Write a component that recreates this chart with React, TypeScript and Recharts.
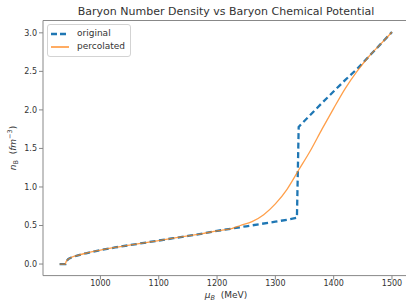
import React from 'react';
import { LineChart, Line, XAxis, YAxis, Legend, ReferenceLine, Label } from 'recharts';

const FONT = '"DejaVu Sans", sans-serif';

const originalMu = [930, 940, 941, 945, 950, 960, 975, 1000, 1025, 1050, 1075, 1100, 1125, 1150, 1175, 1200, 1225, 1250, 1275, 1300, 1320, 1337, 1340, 1380, 1420, 1440, 1460, 1480, 1500];
const originalN = [0, 0, 0.03, 0.065, 0.085, 0.11, 0.14, 0.18, 0.215, 0.245, 0.275, 0.305, 0.335, 0.365, 0.395, 0.43, 0.46, 0.49, 0.52, 0.55, 0.575, 0.6, 1.78, 2.09, 2.39, 2.53, 2.69, 2.85, 3.01];

const percolatedMu = [930, 940, 941, 945, 950, 960, 975, 1000, 1025, 1050, 1075, 1100, 1125, 1150, 1175, 1200, 1225, 1240, 1260, 1280, 1300, 1320, 1340, 1360, 1380, 1400, 1420, 1440, 1460, 1480, 1500];
const percolatedN = [0, 0, 0.03, 0.065, 0.085, 0.11, 0.14, 0.18, 0.215, 0.245, 0.275, 0.305, 0.335, 0.365, 0.395, 0.43, 0.46, 0.5, 0.55, 0.64, 0.78, 0.97, 1.22, 1.47, 1.75, 2.02, 2.28, 2.5, 2.69, 2.85, 3.01];

const xTicks = [1000, 1100, 1200, 1300, 1400, 1500];
const yTicks = [0, 0.5, 1.0, 1.5, 2.0, 2.5, 3.0];

const originalData = originalMu.map((x, i) => ({ x, y: originalN[i] }));
const percolatedData = percolatedMu.map((x, i) => ({ x, y: percolatedN[i] }));

const BLUE = '#1f77b4';
const ORANGE = '#ff7f0e';
const AXIS = '#888';
const TEXT = '#333';

const LegendBox = () => (
  <div
    style={{
      border: '1px solid #d3d3d3',
      borderRadius: 3,
      background: 'rgba(255,255,255,0.8)',
      padding: '2px 5px 2px 3px',
      fontFamily: FONT,
      fontSize: 9,
      color: TEXT,
      lineHeight: '13.4px',
      whiteSpace: 'nowrap',
    }}
  >
    <div style={{ display: 'flex', alignItems: 'center' }}>
      <svg width={18} height={6} style={{ display: 'block' }}>
        <line x1={0} y1={3} x2={18} y2={3} stroke={BLUE} strokeWidth={2.3} strokeDasharray="6 3" />
      </svg>
      <span style={{ marginLeft: 8 }}>original</span>
    </div>
    <div style={{ display: 'flex', alignItems: 'center' }}>
      <svg width={18} height={6} style={{ display: 'block' }}>
        <line x1={0} y1={3} x2={18} y2={3} stroke={ORANGE} strokeWidth={1.3} />
      </svg>
      <span style={{ marginLeft: 8 }}>percolated</span>
    </div>
  </div>
);

const YLabel = () => (
  <text transform="translate(16,148) rotate(-90)" textAnchor="middle" fontSize={9} fill={TEXT} fontFamily={FONT}>
    <tspan fontStyle="italic">n</tspan>
    <tspan fontSize={6.5} dy={2}>B</tspan>
    <tspan dy={-2}>{'\u00a0\u00a0('}</tspan>
    <tspan fontStyle="italic">fm</tspan>
    <tspan fontSize={6.5} dy={-4}>{'\u2212'}3</tspan>
    <tspan dy={4}>)</tspan>
  </text>
);

const XLabel = () => (
  <text x={226} y={298} textAnchor="middle" fontSize={9} fill={TEXT} fontFamily={FONT}>
    <tspan fontStyle="italic">μ</tspan>
    <tspan fontSize={6.5} dy={2} fontStyle="italic">B</tspan>
    <tspan dy={-2}>{'\u00a0\u00a0(MeV)'}</tspan>
  </text>
);

export default function App() {
  return (
    <div style={{ position: 'absolute', left: 0, top: 0, width: 406, height: 302, overflow: 'hidden', background: '#fff' }}>
      <div
        style={{
          position: 'absolute',
          left: 0,
          top: 5,
          width: 452,
          textAlign: 'center',
          fontFamily: FONT,
          fontSize: 11,
          color: TEXT,
          lineHeight: '14px',
          whiteSpace: 'nowrap',
        }}
      >
        Baryon Number Density vs Baryon Chemical Potential
      </div>
      <LineChart width={420} height={302} margin={{ top: 20.5, right: 11.4, bottom: 0, left: 0 }}>
        <XAxis
          type="number"
          dataKey="x"
          domain={[901.5, 1528.5]}
          ticks={xTicks}
          allowDataOverflow
          height={26.4}
          stroke={AXIS}
          tickSize={4}
          tickMargin={1}
          tick={{ fill: TEXT, fontSize: 8, fontFamily: FONT }}
          label={<XLabel />}
        />
        <YAxis
          type="number"
          dataKey="y"
          domain={[-0.15, 3.16]}
          ticks={yTicks}
          allowDataOverflow
          width={43}
          stroke={AXIS}
          tickSize={4}
          tickMargin={2}
          tickFormatter={(v: number) => v.toFixed(1)}
          tick={{ fill: TEXT, fontSize: 8, fontFamily: FONT }}
          label={<YLabel />}
        />
        <ReferenceLine y={3.16} stroke={AXIS} ifOverflow="extendDomain" />
        <Line
          data={originalData}
          dataKey="y"
          type="linear"
          stroke={BLUE}
          strokeWidth={2.3}
          strokeDasharray="6 3.5"
          dot={false}
          isAnimationActive={false}
          name="original"
        />
        <Line
          data={percolatedData}
          dataKey="y"
          type="monotone"
          stroke={ORANGE}
          strokeWidth={1.3}
          strokeOpacity={0.75}
          dot={false}
          isAnimationActive={false}
          name="percolated"
        />
        <Legend
          layout="vertical"
          align="center"
          verticalAlign="middle"
          content={<LegendBox />}
          wrapperStyle={{ left: 47, top: 24, width: 'auto', height: 'auto' }}
        />
      </LineChart>
    </div>
  );
}
